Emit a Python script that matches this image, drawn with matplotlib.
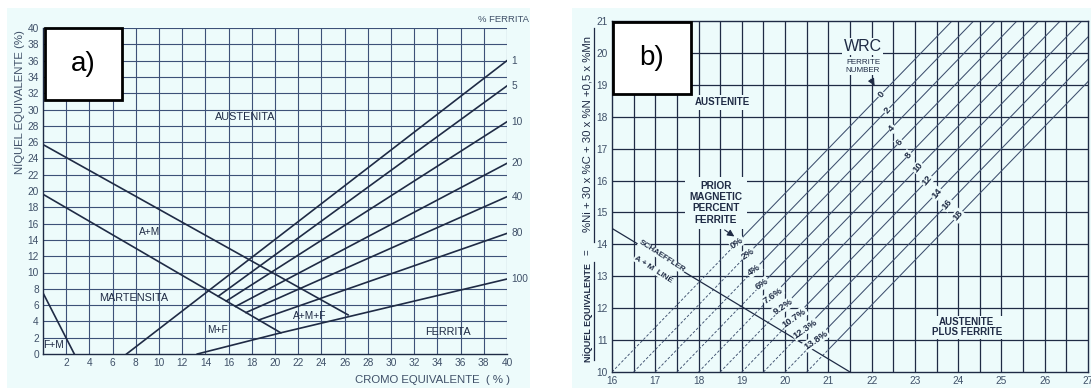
import numpy as np
import matplotlib
matplotlib.use('Agg')
import matplotlib.pyplot as plt
from matplotlib.patches import Rectangle
from matplotlib.lines import Line2D

plt.rcParams['font.family'] = ['Liberation Sans', 'DejaVu Sans']

# ---------------- panel a) Schaeffler ----------------
am_cr = [0, 26.3]          # A / A+M boundary
am_ni = [25.7, 4.8]
m_cr = [0, 20.5]           # A+M / M boundary
m_ni = [19.6, 2.6]
fm_cr = [0, 2.7]           # F+M boundary
fm_ni = [7.5, 0]

ferr_labels = ['1', '5', '10', '20', '40', '80', '100']
ferr_start_cr = [7.2, 15.1, 15.8, 16.6, 17.5, 18.6, 13.3]
ferr_end_ni = [36.0, 32.9, 28.5, 23.4, 19.3, 14.8, 9.2]

a_texts = ['AUSTENITA', 'A+M', 'MARTENSITA', 'M+F', 'A+M+F', 'FERRITA', 'F+M']
a_text_cr = [17.4, 9.2, 7.8, 15.0, 23.0, 34.9, 0.9]
a_text_ni = [29.1, 15.0, 6.9, 3.0, 4.7, 2.7, 1.1]

# ---------------- panel b) DeLong ----------------
fn_labels = ['0', '2', '4', '6', '8', '10', '12', '14', '16', '18']
pct_labels = ['0%', '2%', '4%', '6%', '7.6%', '9.2%', '10.7%', '12.3%', '13.8%']
fn_cr10 = [16.0, 16.5, 17.0, 17.5, 18.0, 18.5, 19.0, 19.5, 20.0, 20.5]  # Cr at Ni=10
fn_slope = 1.4
pct_ni = [14.05, 13.7, 13.2, 12.75, 12.4, 12.05, 11.7, 11.35, 11.0, 10.7]   # dashed below
fn_lab_ni = [18.7, 18.2, 17.65, 17.2, 16.8, 16.4, 16.0, 15.6, 15.25, 14.9]
schaeffler_cr = [16.0, 21.5]
schaeffler_ni = [14.5, 10.0]

W, H = 1091, 388
fig = plt.figure(figsize=(W / 100, H / 100), dpi=100)
fig.patch.set_facecolor('white')

bg = '#edfbfb'
navy = '#1f2b45'
gridc = '#3d5178'
tickc = '#3f5068'

fig.add_artist(Rectangle((7 / W, 0), 523 / W, 1 - 8 / H, transform=fig.transFigure,
                         facecolor=bg, edgecolor='none', zorder=0))
fig.add_artist(Rectangle((572 / W, 0), 519 / W, 1 - 8 / H, transform=fig.transFigure,
                         facecolor=bg, edgecolor='none', zorder=0))

# ---- axes a
ax = fig.add_axes([43 / W, 1 - 354 / H, 464 / W, 326 / H])
ax.set_facecolor(bg)
ax.set_xlim(0, 40)
ax.set_ylim(0, 40)
for v in range(2, 41, 2):
    ax.axvline(v, color=gridc, lw=0.8, zorder=1)
    ax.axhline(v, color=gridc, lw=0.8, zorder=1)
for s in ax.spines.values():
    s.set_color(navy)
    s.set_linewidth(1.0)
ax.spines['top'].set_visible(False)
ax.spines['right'].set_visible(False)
ax.set_xticks(range(2, 41, 2))
ax.set_yticks(range(0, 41, 2))
ax.tick_params(length=0, labelsize=7.3, labelcolor=tickc, pad=3)

kw = dict(color=navy, lw=1.2, zorder=3)
ax.plot(am_cr, am_ni, **kw)
ax.plot(m_cr, m_ni, **kw)
ax.plot(fm_cr, fm_ni, **kw)
for i, lab in enumerate(ferr_labels):
    c0 = ferr_start_cr[i]
    if lab == '1' or lab == '100':
        n0 = 0
    else:
        n0 = np.interp(c0, m_cr, m_ni)
    if lab == '100':
        xs = [c0, m_cr[1], 40]
        ys = [n0, m_ni[1], ferr_end_ni[i]]
    else:
        xs = [c0, 40]
        ys = [n0, ferr_end_ni[i]]
    ax.plot(xs, ys, **kw)
    ax.text(40.4, ferr_end_ni[i], lab, fontsize=7.3, color=tickc, va='center', ha='left',
            clip_on=False)
ax.text(39.7, 41.1, '% FERRITA', fontsize=6.8, color=tickc, ha='center', va='center',
        clip_on=False)
for t, x, y in zip(a_texts, a_text_cr, a_text_ni):
    ax.text(x, y, t, fontsize=7.8 if len(t) > 5 else 7.3, color=navy, ha='center', va='center')
ax.set_xlabel('CROMO EQUIVALENTE  ( % )', fontsize=8.2, color=tickc, va='center')
ax.xaxis.set_label_coords(0.84, -0.08)
ax.set_ylabel('NÍQUEL EQUIVALENTE (%)', fontsize=8.2, color=tickc, va='center')
ax.yaxis.set_label_coords(-0.052, 0.773)

# ---- axes b
bx = fig.add_axes([612 / W, 1 - 372 / H, 476 / W, 351 / H])
bx.set_facecolor(bg)
bx.set_xlim(16, 27)
bx.set_ylim(10, 21)
for v in np.arange(16.5, 27, 0.5):
    bx.axvline(v, color=navy, lw=0.9, zorder=1)
for v in range(11, 21):
    bx.axhline(v, color=navy, lw=0.9, zorder=1)
for s in bx.spines.values():
    s.set_color(navy)
    s.set_linewidth(1.0)
bx.set_xticks(range(16, 28))
bx.set_yticks(range(10, 22))
bx.tick_params(length=0, labelsize=7.3, labelcolor=tickc, pad=3)

lab_kw = dict(fontsize=6.8, fontweight='bold', color=navy, ha='center', va='center',
              bbox=dict(facecolor=bg, edgecolor='none', pad=0.6), zorder=4)
for i in range(len(fn_cr10)):
    c0 = fn_cr10[i]
    nb = pct_ni[i]
    cb = c0 + (nb - 10) / fn_slope
    bx.plot([c0, cb], [10, nb], color='#3d4f6e', lw=0.65, ls=(0, (3, 2)), zorder=2)
    ct = c0 + 11 / fn_slope
    bx.plot([cb, ct], [nb, 21], color='#3d4f6e', lw=0.75, zorder=2)
    fy = fn_lab_ni[i]
    fx = c0 + (fy - 10) / fn_slope
    bx.text(fx, fy, fn_labels[i], rotation=50, **lab_kw)
    if i < len(pct_labels):
        bx.text(cb, nb, pct_labels[i], rotation=35, **lab_kw)

bx.plot(schaeffler_cr, schaeffler_ni, color=navy, lw=0.9, zorder=3)
bx.text(17.15, 13.62, 'SCHAEFFLER', fontsize=5.8, fontweight='bold', color=navy, rotation=-33,
        ha='center', va='center', bbox=dict(facecolor=bg, edgecolor='none', pad=0.3), zorder=4)
bx.text(16.95, 13.22, 'A + M  LINE', fontsize=5.8, fontweight='bold', color=navy, rotation=-33,
        ha='center', va='center', bbox=dict(facecolor=bg, edgecolor='none', pad=0.3), zorder=4)
bx.text(18.55, 18.45, 'AUSTENITE', fontsize=7, fontweight='bold', color=navy,
        ha='center', va='center', bbox=dict(facecolor=bg, edgecolor='none', pad=2), zorder=4)
bx.text(18.4, 15.3, 'PRIOR\nMAGNETIC\nPERCENT\nFERRITE', fontsize=7.2, fontweight='bold',
        color=navy, ha='center', va='center', linespacing=1.15,
        bbox=dict(facecolor=bg, edgecolor='none', pad=3), zorder=4)
bx.annotate('', xy=(18.88, 14.2), xytext=(18.55, 14.5),
            arrowprops=dict(arrowstyle='-|>', color=navy, lw=0.8), zorder=5)
bx.text(21.8, 20.2, 'WRC', fontsize=11.5, color=navy, ha='center', va='center',
        bbox=dict(facecolor=bg, edgecolor='none', pad=1), zorder=4)
bx.text(21.8, 19.58, 'FERRITE\nNUMBER', fontsize=5.8, color=navy, ha='center', va='center',
        linespacing=1.3, bbox=dict(facecolor=bg, edgecolor='none', pad=1), zorder=4)
bx.annotate('', xy=(22.1, 18.9), xytext=(21.95, 19.25),
            arrowprops=dict(arrowstyle='-|>', color=navy, lw=0.8), zorder=5)
bx.text(24.2, 11.4, 'AUSTENITE\nPLUS FERRITE', fontsize=7, fontweight='bold', color=navy,
        ha='center', va='center', linespacing=1.0,
        bbox=dict(facecolor=bg, edgecolor='none', pad=1), zorder=4)

# b) y label: bold underlined part + formula, both underlined
fig.text(588 / W, 1 - 312 / H, 'NÍQUEL EQUIVALENTE', rotation=90, fontsize=6.4,
         fontweight='bold', color=navy, ha='center', va='center')
fig.text(588 / W, 1 - 252 / H, '=', rotation=90, fontsize=7, color=navy,
         ha='center', va='center')
fig.text(588 / W, 1 - 134 / H, '%Ni + 30 x %C + 30 x %N +0,5 x %Mn', rotation=90,
         fontsize=8.2, color=navy, ha='center', va='center')
for (ya, yb) in [(262, 360), (28, 242)]:
    fig.add_artist(Line2D([594 / W, 594 / W], [1 - ya / H, 1 - yb / H],
                          transform=fig.transFigure, color=navy, lw=0.9))

# label boxes
for (x0, y0, x1, y1, t) in [(45, 28, 122, 100, 'a)'), (613, 22, 691, 94, 'b)')]:
    fig.add_artist(Rectangle((x0 / W, 1 - y1 / H), (x1 - x0) / W, (y1 - y0) / H,
                             transform=fig.transFigure, facecolor='white',
                             edgecolor='black', lw=2, zorder=10))
    fig.text((x0 + x1) / 2 / W, 1 - (y0 + y1) / 2 / H, t, fontsize=20, ha='center',
             va='center', zorder=11, family='Liberation Sans')

fig.savefig('out.png', dpi=100)
